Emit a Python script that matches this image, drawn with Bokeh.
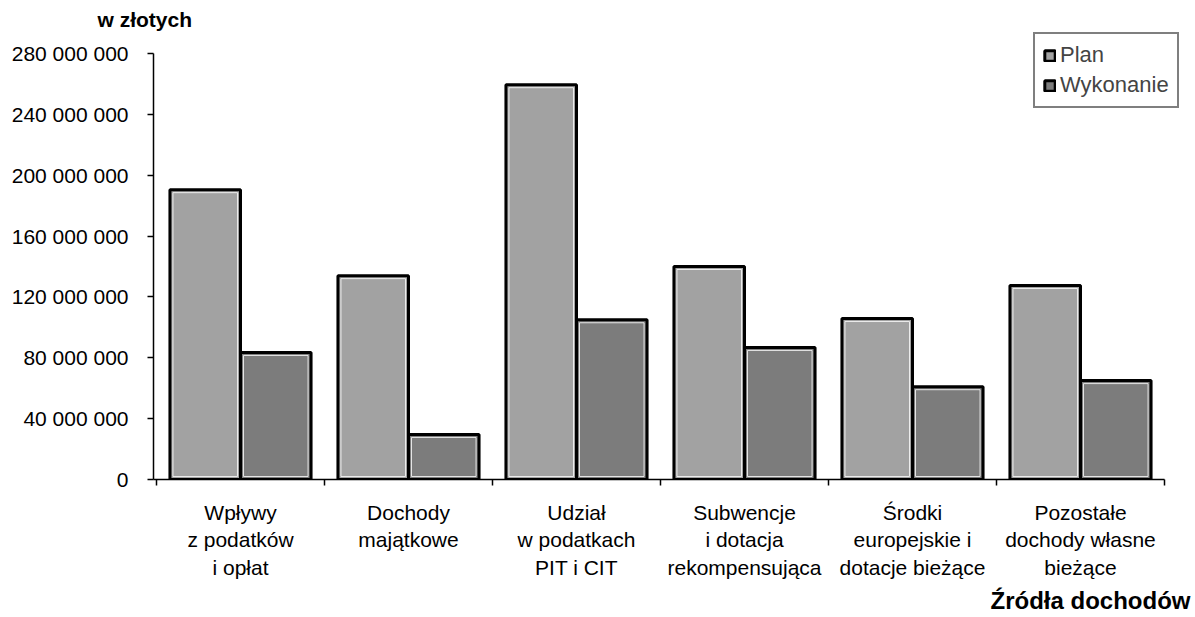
from bokeh.plotting import figure
from bokeh.models import Range1d, FixedTicker, Legend, LegendItem, Title
from bokeh.embed import file_html
from bokeh.resources import INLINE
import numpy as np

categories = [
    "Wpływy\nz podatków\ni opłat",
    "Dochody\nmajątkowe",
    "Udział\nw podatkach\nPIT i CIT",
    "Subwencje\ni dotacja\nrekompensująca",
    "Środki\neuropejskie i\ndotacje bieżące",
    "Pozostałe\ndochody własne\nbieżące",
]
plan = [190_500_000, 134_000_000, 259_500_000, 140_000_000, 105_800_000, 127_500_000]
wykonanie = [83_500_000, 29_600_000, 105_000_000, 86_800_000, 61_000_000, 65_000_000]
y_ticks = [0, 40_000_000, 80_000_000, 120_000_000, 160_000_000, 200_000_000, 240_000_000, 280_000_000]
series_names = ["Plan", "Wykonanie"]
y_title = "w złotych"
x_title = "Źródła dochodów"

FONT = "Liberation Sans"

# layout geometry (pixels)
W, H = 1195, 617
FRAME_L, FRAME_T, FRAME_B, FRAME_R = 153, 30, 479, 1185
Y_TOP_PX = 53           # pixel row of the top tick
CAT_PX = 168            # width of one category in pixels
X0_PX = 156             # pixel column of category boundary 0

frame_h = FRAME_B - FRAME_T
frame_w = FRAME_R - FRAME_L
y_max = y_ticks[-1]
y_end = y_max * frame_h / (FRAME_B - Y_TOP_PX)
x_start = -(X0_PX - FRAME_L) / CAT_PX
x_end = x_start + frame_w / CAT_PX

p = figure(width=W, height=H, output_backend="svg", toolbar_location=None,
           min_border_left=FRAME_L, min_border_right=W - FRAME_R,
           min_border_top=FRAME_T, min_border_bottom=H - FRAME_B,
           x_range=Range1d(x_start, x_end), y_range=Range1d(0, y_end))
p.outline_line_color = None
p.xgrid.grid_line_color = None
p.ygrid.grid_line_color = None
p.background_fill_color = "white"
p.border_fill_color = "white"

n = len(categories)
centers = np.arange(n) + 0.5
bw = 0.42
off = 0.21
r1 = p.vbar(x=centers - off, top=plan, width=bw, fill_color="#a2a2a2",
            line_color="black", line_width=3)
r2 = p.vbar(x=centers + off, top=wykonanie, width=bw, fill_color="#7c7c7c",
            line_color="black", line_width=3)

# thin white inner edge like the original print
ipx_x = 3.0 / CAT_PX
ipx_y = 3.0 * y_end / frame_h
p.vbar(x=centers - off, top=np.array(plan) - ipx_y, bottom=ipx_y, width=bw - 2 * ipx_x,
       fill_color=None, line_color="white", line_width=1, line_alpha=0.8)
p.vbar(x=centers + off, top=np.array(wykonanie) - ipx_y, bottom=ipx_y, width=bw - 2 * ipx_x,
       fill_color=None, line_color="white", line_width=1, line_alpha=0.8)

# x axis: labels at centres, tick marks at boundaries
xa = p.xaxis[0]
xa.ticker = FixedTicker(ticks=list(centers), minor_ticks=list(range(n + 1)))
xa.major_label_overrides = {float(c): lab for c, lab in zip(centers, categories)}
xa.major_tick_out = 0
xa.major_tick_in = 0
xa.minor_tick_out = 6
xa.minor_tick_in = 0
xa.minor_tick_line_color = "black"
xa.minor_tick_line_width = 1.5
xa.axis_line_color = "black"
xa.axis_line_width = 1.5
xa.bounds = (x_start, n)
xa.major_label_standoff = 15
xa.major_label_text_font = FONT
xa.major_label_text_font_size = "21px"
xa.major_label_text_line_height = 1.2
xa.major_label_text_color = "black"

ya = p.yaxis[0]
ya.ticker = FixedTicker(ticks=y_ticks, minor_ticks=[])
ya.major_label_overrides = {t: f"{t:,}".replace(",", " ") for t in y_ticks}
ya.bounds = (0, y_max)
ya.major_tick_out = 6
ya.major_tick_in = 0
ya.major_tick_line_width = 1.5
ya.axis_line_width = 1.5
ya.major_label_standoff = 19
ya.major_label_text_font = FONT
ya.major_label_text_font_size = "21px"
ya.major_label_text_color = "black"

p.add_layout(Title(text=y_title, align="left", offset=-56, standoff=0,
                   text_font=FONT, text_font_size="21px", text_font_style="bold",
                   text_color="black"), "above")
p.add_layout(Title(text=x_title, align="right", offset=-5, standoff=6,
                   text_font=FONT, text_font_size="24px", text_font_style="bold",
                   text_color="black"), "below")

legend = Legend(items=[LegendItem(label=series_names[0], renderers=[r1]),
                       LegendItem(label=series_names[1], renderers=[r2])],
                location=(1033 - FRAME_L, FRAME_B - 108))
legend.label_text_font = FONT
legend.label_text_font_size = "22px"
legend.glyph_width = 13
legend.glyph_height = 13
legend.label_standoff = 4
legend.spacing = 4
legend.padding = 8
legend.margin = 0
legend.border_line_color = "black"
legend.border_line_width = 2
legend.background_fill_alpha = 1
p.add_layout(legend, "center")

open("out.html", "w").write(file_html(p, INLINE))
